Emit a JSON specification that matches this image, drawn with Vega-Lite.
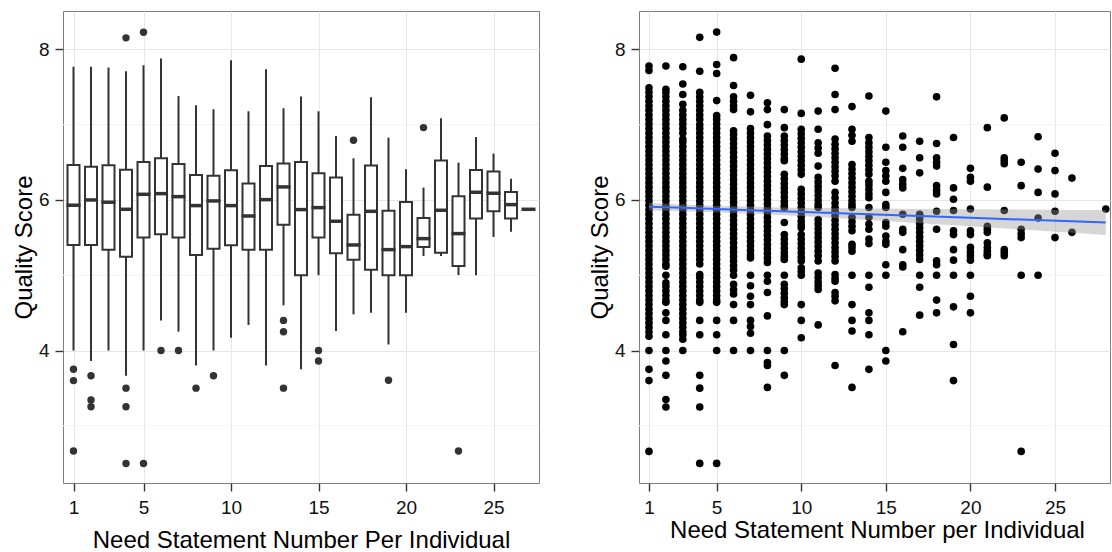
{
"$schema": "https://vega.github.io/schema/vega-lite/v6.json",
"padding": {"left": 11, "top": 10, "right": 0, "bottom": 0},
"spacing": 47,
"config": {
  "font": "Liberation Sans",
  "view": {"stroke": "#7f7f7f", "strokeWidth": 1},
  "axis": {"labelFont": "Liberation Sans", "labelFontSize": 19, "labelColor": "#111111", "titleFont": "Liberation Sans", "titleFontSize": 24, "titleFontWeight": "normal", "titleColor": "#000000", "tickColor": "#333333", "tickSize": 8, "tickWidth": 1.4, "domain": false, "grid": true, "gridColor": "#e6e6e6", "gridWidth": 1},
  "axisX": {"labelPadding": 7, "labelAngle": 0},
  "axisY": {"labelPadding": 6, "titlePadding": 2}
},
"datasets": {
  "minor": [{"g": 3}, {"g": 5}, {"g": 7}],
  "boxes": [
    {"n": 1, "lo": 4.0, "q1": 5.4, "med": 5.93, "q3": 6.465, "hi": 7.77},
    {"n": 2, "lo": 3.86, "q1": 5.4, "med": 6.0, "q3": 6.44, "hi": 7.77},
    {"n": 3, "lo": 4.0, "q1": 5.34, "med": 5.97, "q3": 6.46, "hi": 7.76},
    {"n": 4, "lo": 3.665, "q1": 5.247, "med": 5.876, "q3": 6.4, "hi": 7.71},
    {"n": 5, "lo": 4.0, "q1": 5.5, "med": 6.075, "q3": 6.505, "hi": 7.79},
    {"n": 6, "lo": 4.4, "q1": 5.544, "med": 6.084, "q3": 6.554, "hi": 7.88},
    {"n": 7, "lo": 4.25, "q1": 5.5, "med": 6.044, "q3": 6.478, "hi": 7.38},
    {"n": 8, "lo": 3.8, "q1": 5.269, "med": 5.925, "q3": 6.332, "hi": 7.258},
    {"n": 9, "lo": 4.0, "q1": 5.353, "med": 5.987, "q3": 6.323, "hi": 7.205},
    {"n": 10, "lo": 4.17, "q1": 5.398, "med": 5.925, "q3": 6.394, "hi": 7.856},
    {"n": 11, "lo": 4.339, "q1": 5.34, "med": 5.787, "q3": 6.217, "hi": 7.178},
    {"n": 12, "lo": 3.8, "q1": 5.34, "med": 6.004, "q3": 6.452, "hi": 7.736},
    {"n": 13, "lo": 4.6, "q1": 5.672, "med": 6.173, "q3": 6.483, "hi": 7.218},
    {"n": 14, "lo": 3.75, "q1": 5.0, "med": 5.872, "q3": 6.505, "hi": 7.373},
    {"n": 15, "lo": 5.0, "q1": 5.5, "med": 5.898, "q3": 6.354, "hi": 7.178},
    {"n": 16, "lo": 4.259, "q1": 5.291, "med": 5.717, "q3": 6.297, "hi": 6.85},
    {"n": 17, "lo": 4.48, "q1": 5.207, "med": 5.402, "q3": 5.805, "hi": 6.554},
    {"n": 18, "lo": 4.5, "q1": 5.074, "med": 5.849, "q3": 6.456, "hi": 7.364},
    {"n": 19, "lo": 4.08, "q1": 5.0, "med": 5.34, "q3": 5.858, "hi": 6.828},
    {"n": 20, "lo": 4.5, "q1": 5.0, "med": 5.38, "q3": 5.973, "hi": 6.408},
    {"n": 21, "lo": 5.256, "q1": 5.375, "med": 5.486, "q3": 5.761, "hi": 6.164},
    {"n": 22, "lo": 5.256, "q1": 5.3, "med": 5.863, "q3": 6.523, "hi": 7.085},
    {"n": 23, "lo": 5.003, "q1": 5.123, "med": 5.553, "q3": 6.049, "hi": 6.496},
    {"n": 24, "lo": 5.0, "q1": 5.752, "med": 6.102, "q3": 6.399, "hi": 6.837},
    {"n": 25, "lo": 5.508, "q1": 5.849, "med": 6.089, "q3": 6.377, "hi": 6.616},
    {"n": 26, "lo": 5.579, "q1": 5.752, "med": 5.938, "q3": 6.106, "hi": 6.283},
    {"n": 28, "lo": 5.876, "q1": 5.876, "med": 5.876, "q3": 5.876, "hi": 5.876}
  ],
  "outliers": [
    {"n": 1, "q": 3.75}, {"n": 1, "q": 3.6}, {"n": 1, "q": 2.665},
    {"n": 2, "q": 3.665}, {"n": 2, "q": 3.342}, {"n": 2, "q": 3.253},
    {"n": 4, "q": 8.153}, {"n": 4, "q": 3.5}, {"n": 4, "q": 3.253}, {"n": 4, "q": 2.5},
    {"n": 5, "q": 8.228}, {"n": 5, "q": 2.5},
    {"n": 6, "q": 4.0}, {"n": 7, "q": 4.0}, {"n": 8, "q": 3.5}, {"n": 9, "q": 3.665},
    {"n": 13, "q": 4.4}, {"n": 13, "q": 4.25}, {"n": 13, "q": 3.5},
    {"n": 15, "q": 4.0}, {"n": 15, "q": 3.86},
    {"n": 17, "q": 6.793}, {"n": 19, "q": 3.604}, {"n": 21, "q": 6.961}, {"n": 23, "q": 2.665}
  ],
  "band": [
    {"x": 1, "fit": 5.911, "lo": 5.861, "hi": 5.961},
    {"x": 3, "fit": 5.895, "lo": 5.85, "hi": 5.94},
    {"x": 5, "fit": 5.88, "lo": 5.837, "hi": 5.923},
    {"x": 8, "fit": 5.856, "lo": 5.808, "hi": 5.904},
    {"x": 11, "fit": 5.833, "lo": 5.773, "hi": 5.893},
    {"x": 14, "fit": 5.81, "lo": 5.734, "hi": 5.886},
    {"x": 17, "fit": 5.786, "lo": 5.692, "hi": 5.88},
    {"x": 20, "fit": 5.763, "lo": 5.65, "hi": 5.876},
    {"x": 23, "fit": 5.74, "lo": 5.608, "hi": 5.872},
    {"x": 26, "fit": 5.716, "lo": 5.564, "hi": 5.868},
    {"x": 28, "fit": 5.7, "lo": 5.534, "hi": 5.866}
  ],
  "points": [
    {"n":1,"q":7.78},{"n":1,"q":7.72},{"n":1,"q":7.49},{"n":1,"q":7.43},{"n":1,"q":7.37},{"n":1,"q":7.31},{"n":1,"q":7.25},{"n":1,"q":7.19},{"n":1,"q":7.13},{"n":1,"q":7.07},{"n":1,"q":7.01},{"n":1,"q":6.95},{"n":1,"q":6.89},{"n":1,"q":6.83},{"n":1,"q":6.77},{"n":1,"q":6.71},{"n":1,"q":6.65},{"n":1,"q":6.59},{"n":1,"q":6.53},{"n":1,"q":6.47},{"n":1,"q":6.41},{"n":1,"q":6.35},{"n":1,"q":6.29},{"n":1,"q":6.23},{"n":1,"q":6.17},{"n":1,"q":6.11},{"n":1,"q":6.05},{"n":1,"q":5.99},{"n":1,"q":5.93},{"n":1,"q":5.87},{"n":1,"q":5.81},{"n":1,"q":5.75},{"n":1,"q":5.69},{"n":1,"q":5.63},{"n":1,"q":5.57},{"n":1,"q":5.51},{"n":1,"q":5.45},{"n":1,"q":5.39},{"n":1,"q":5.33},{"n":1,"q":5.27},{"n":1,"q":5.21},{"n":1,"q":5.15},{"n":1,"q":5.09},{"n":1,"q":5.03},{"n":1,"q":4.97},{"n":1,"q":4.91},{"n":1,"q":4.85},{"n":1,"q":4.79},{"n":1,"q":4.73},{"n":1,"q":4.67},{"n":1,"q":4.61},{"n":1,"q":4.55},{"n":1,"q":4.49},{"n":1,"q":4.43},{"n":1,"q":4.37},{"n":1,"q":4.31},{"n":1,"q":4.25},{"n":1,"q":4.19},{"n":1,"q":4.0},{"n":1,"q":3.75},{"n":1,"q":3.6},{"n":1,"q":2.66},
    {"n":2,"q":7.78},{"n":2,"q":7.47},{"n":2,"q":7.43},{"n":2,"q":7.37},{"n":2,"q":7.31},{"n":2,"q":7.25},{"n":2,"q":7.19},{"n":2,"q":7.13},{"n":2,"q":7.07},{"n":2,"q":7.01},{"n":2,"q":6.95},{"n":2,"q":6.89},{"n":2,"q":6.83},{"n":2,"q":6.77},{"n":2,"q":6.71},{"n":2,"q":6.65},{"n":2,"q":6.59},{"n":2,"q":6.53},{"n":2,"q":6.47},{"n":2,"q":6.41},{"n":2,"q":6.35},{"n":2,"q":6.29},{"n":2,"q":6.23},{"n":2,"q":6.17},{"n":2,"q":6.11},{"n":2,"q":6.05},{"n":2,"q":5.99},{"n":2,"q":5.93},{"n":2,"q":5.87},{"n":2,"q":5.81},{"n":2,"q":5.75},{"n":2,"q":5.69},{"n":2,"q":5.63},{"n":2,"q":5.57},{"n":2,"q":5.51},{"n":2,"q":5.45},{"n":2,"q":5.39},{"n":2,"q":5.33},{"n":2,"q":5.27},{"n":2,"q":5.21},{"n":2,"q":5.15},{"n":2,"q":5.12},{"n":2,"q":5.0},{"n":2,"q":4.9},{"n":2,"q":4.85},{"n":2,"q":4.79},{"n":2,"q":4.73},{"n":2,"q":4.67},{"n":2,"q":4.64},{"n":2,"q":4.5},{"n":2,"q":4.4},{"n":2,"q":4.21},{"n":2,"q":4.0},{"n":2,"q":3.86},{"n":2,"q":3.67},{"n":2,"q":3.35},{"n":2,"q":3.25},
    {"n":3,"q":7.77},{"n":3,"q":7.54},{"n":3,"q":7.4},{"n":3,"q":7.27},{"n":3,"q":7.19},{"n":3,"q":7.13},{"n":3,"q":7.07},{"n":3,"q":7.01},{"n":3,"q":6.95},{"n":3,"q":6.89},{"n":3,"q":6.81},{"n":3,"q":6.77},{"n":3,"q":6.71},{"n":3,"q":6.65},{"n":3,"q":6.59},{"n":3,"q":6.53},{"n":3,"q":6.47},{"n":3,"q":6.41},{"n":3,"q":6.35},{"n":3,"q":6.29},{"n":3,"q":6.23},{"n":3,"q":6.17},{"n":3,"q":6.11},{"n":3,"q":6.05},{"n":3,"q":5.99},{"n":3,"q":5.93},{"n":3,"q":5.87},{"n":3,"q":5.81},{"n":3,"q":5.75},{"n":3,"q":5.69},{"n":3,"q":5.63},{"n":3,"q":5.57},{"n":3,"q":5.51},{"n":3,"q":5.45},{"n":3,"q":5.39},{"n":3,"q":5.33},{"n":3,"q":5.27},{"n":3,"q":5.21},{"n":3,"q":5.15},{"n":3,"q":5.09},{"n":3,"q":5.03},{"n":3,"q":4.97},{"n":3,"q":4.91},{"n":3,"q":4.85},{"n":3,"q":4.79},{"n":3,"q":4.73},{"n":3,"q":4.67},{"n":3,"q":4.61},{"n":3,"q":4.55},{"n":3,"q":4.49},{"n":3,"q":4.43},{"n":3,"q":4.37},{"n":3,"q":4.31},{"n":3,"q":4.25},{"n":3,"q":4.21},{"n":3,"q":4.15},{"n":3,"q":4.0},
    {"n":4,"q":8.16},{"n":4,"q":7.71},{"n":4,"q":7.43},{"n":4,"q":7.37},{"n":4,"q":7.31},{"n":4,"q":7.25},{"n":4,"q":7.19},{"n":4,"q":7.13},{"n":4,"q":7.07},{"n":4,"q":7.0},{"n":4,"q":6.95},{"n":4,"q":6.89},{"n":4,"q":6.83},{"n":4,"q":6.77},{"n":4,"q":6.71},{"n":4,"q":6.65},{"n":4,"q":6.59},{"n":4,"q":6.53},{"n":4,"q":6.47},{"n":4,"q":6.41},{"n":4,"q":6.35},{"n":4,"q":6.29},{"n":4,"q":6.23},{"n":4,"q":6.17},{"n":4,"q":6.11},{"n":4,"q":6.05},{"n":4,"q":5.99},{"n":4,"q":5.93},{"n":4,"q":5.87},{"n":4,"q":5.81},{"n":4,"q":5.75},{"n":4,"q":5.69},{"n":4,"q":5.63},{"n":4,"q":5.57},{"n":4,"q":5.51},{"n":4,"q":5.45},{"n":4,"q":5.39},{"n":4,"q":5.33},{"n":4,"q":5.27},{"n":4,"q":5.21},{"n":4,"q":5.15},{"n":4,"q":5.01},{"n":4,"q":4.97},{"n":4,"q":4.91},{"n":4,"q":4.85},{"n":4,"q":4.79},{"n":4,"q":4.73},{"n":4,"q":4.67},{"n":4,"q":4.64},{"n":4,"q":4.4},{"n":4,"q":4.21},{"n":4,"q":3.67},{"n":4,"q":3.5},{"n":4,"q":3.25},{"n":4,"q":2.5},
    {"n":5,"q":8.23},{"n":5,"q":7.8},{"n":5,"q":7.68},{"n":5,"q":7.32},{"n":5,"q":7.12},{"n":5,"q":7.07},{"n":5,"q":7.01},{"n":5,"q":6.95},{"n":5,"q":6.89},{"n":5,"q":6.83},{"n":5,"q":6.77},{"n":5,"q":6.71},{"n":5,"q":6.65},{"n":5,"q":6.59},{"n":5,"q":6.53},{"n":5,"q":6.47},{"n":5,"q":6.41},{"n":5,"q":6.35},{"n":5,"q":6.29},{"n":5,"q":6.23},{"n":5,"q":6.17},{"n":5,"q":6.11},{"n":5,"q":6.05},{"n":5,"q":5.99},{"n":5,"q":5.93},{"n":5,"q":5.87},{"n":5,"q":5.81},{"n":5,"q":5.75},{"n":5,"q":5.69},{"n":5,"q":5.63},{"n":5,"q":5.57},{"n":5,"q":5.51},{"n":5,"q":5.45},{"n":5,"q":5.39},{"n":5,"q":5.33},{"n":5,"q":5.27},{"n":5,"q":5.21},{"n":5,"q":5.15},{"n":5,"q":5.09},{"n":5,"q":5.03},{"n":5,"q":4.97},{"n":5,"q":4.91},{"n":5,"q":4.85},{"n":5,"q":4.79},{"n":5,"q":4.73},{"n":5,"q":4.67},{"n":5,"q":4.64},{"n":5,"q":4.4},{"n":5,"q":4.21},{"n":5,"q":4.0},{"n":5,"q":2.5},
    {"n":6,"q":7.89},{"n":6,"q":7.52},{"n":6,"q":7.37},{"n":6,"q":7.31},{"n":6,"q":7.25},{"n":6,"q":7.2},{"n":6,"q":6.92},{"n":6,"q":6.87},{"n":6,"q":6.81},{"n":6,"q":6.75},{"n":6,"q":6.69},{"n":6,"q":6.63},{"n":6,"q":6.57},{"n":6,"q":6.51},{"n":6,"q":6.45},{"n":6,"q":6.39},{"n":6,"q":6.33},{"n":6,"q":6.27},{"n":6,"q":6.21},{"n":6,"q":6.15},{"n":6,"q":6.09},{"n":6,"q":6.03},{"n":6,"q":5.97},{"n":6,"q":5.91},{"n":6,"q":5.85},{"n":6,"q":5.79},{"n":6,"q":5.73},{"n":6,"q":5.67},{"n":6,"q":5.61},{"n":6,"q":5.55},{"n":6,"q":5.49},{"n":6,"q":5.43},{"n":6,"q":5.37},{"n":6,"q":5.31},{"n":6,"q":5.25},{"n":6,"q":5.19},{"n":6,"q":5.13},{"n":6,"q":5.07},{"n":6,"q":5.0},{"n":6,"q":4.88},{"n":6,"q":4.81},{"n":6,"q":4.75},{"n":6,"q":4.61},{"n":6,"q":4.4},{"n":6,"q":4.0},
    {"n":7,"q":7.39},{"n":7,"q":7.17},{"n":7,"q":6.95},{"n":7,"q":6.89},{"n":7,"q":6.83},{"n":7,"q":6.77},{"n":7,"q":6.71},{"n":7,"q":6.65},{"n":7,"q":6.59},{"n":7,"q":6.53},{"n":7,"q":6.47},{"n":7,"q":6.41},{"n":7,"q":6.35},{"n":7,"q":6.29},{"n":7,"q":6.23},{"n":7,"q":6.17},{"n":7,"q":6.11},{"n":7,"q":6.05},{"n":7,"q":5.99},{"n":7,"q":5.93},{"n":7,"q":5.87},{"n":7,"q":5.81},{"n":7,"q":5.75},{"n":7,"q":5.69},{"n":7,"q":5.63},{"n":7,"q":5.57},{"n":7,"q":5.51},{"n":7,"q":5.45},{"n":7,"q":5.39},{"n":7,"q":5.33},{"n":7,"q":5.27},{"n":7,"q":5.23},{"n":7,"q":5.0},{"n":7,"q":4.86},{"n":7,"q":4.72},{"n":7,"q":4.61},{"n":7,"q":4.4},{"n":7,"q":4.32},{"n":7,"q":4.23},{"n":7,"q":4.0},
    {"n":8,"q":7.29},{"n":8,"q":7.2},{"n":8,"q":7.0},{"n":8,"q":6.85},{"n":8,"q":6.79},{"n":8,"q":6.73},{"n":8,"q":6.67},{"n":8,"q":6.61},{"n":8,"q":6.55},{"n":8,"q":6.49},{"n":8,"q":6.43},{"n":8,"q":6.37},{"n":8,"q":6.31},{"n":8,"q":6.25},{"n":8,"q":6.19},{"n":8,"q":6.13},{"n":8,"q":6.07},{"n":8,"q":6.01},{"n":8,"q":5.95},{"n":8,"q":5.89},{"n":8,"q":5.83},{"n":8,"q":5.77},{"n":8,"q":5.71},{"n":8,"q":5.65},{"n":8,"q":5.59},{"n":8,"q":5.53},{"n":8,"q":5.47},{"n":8,"q":5.41},{"n":8,"q":5.35},{"n":8,"q":5.29},{"n":8,"q":5.23},{"n":8,"q":5.17},{"n":8,"q":5.0},{"n":8,"q":4.92},{"n":8,"q":4.77},{"n":8,"q":4.46},{"n":8,"q":4.0},{"n":8,"q":3.84},{"n":8,"q":3.8},{"n":8,"q":3.51},
    {"n":9,"q":7.2},{"n":9,"q":6.96},{"n":9,"q":6.85},{"n":9,"q":6.79},{"n":9,"q":6.73},{"n":9,"q":6.67},{"n":9,"q":6.61},{"n":9,"q":6.55},{"n":9,"q":6.52},{"n":9,"q":6.34},{"n":9,"q":6.28},{"n":9,"q":6.22},{"n":9,"q":6.16},{"n":9,"q":6.1},{"n":9,"q":6.04},{"n":9,"q":5.98},{"n":9,"q":5.93},{"n":9,"q":5.9},{"n":9,"q":5.7},{"n":9,"q":5.54},{"n":9,"q":5.48},{"n":9,"q":5.42},{"n":9,"q":5.36},{"n":9,"q":5.3},{"n":9,"q":5.25},{"n":9,"q":5.21},{"n":9,"q":5.0},{"n":9,"q":4.88},{"n":9,"q":4.82},{"n":9,"q":4.76},{"n":9,"q":4.7},{"n":9,"q":4.65},{"n":9,"q":4.61},{"n":9,"q":4.0},{"n":9,"q":3.67},
    {"n":10,"q":7.87},{"n":10,"q":7.15},{"n":10,"q":6.94},{"n":10,"q":6.88},{"n":10,"q":6.82},{"n":10,"q":6.76},{"n":10,"q":6.7},{"n":10,"q":6.64},{"n":10,"q":6.58},{"n":10,"q":6.52},{"n":10,"q":6.46},{"n":10,"q":6.4},{"n":10,"q":6.34},{"n":10,"q":6.14},{"n":10,"q":6.08},{"n":10,"q":6.02},{"n":10,"q":5.96},{"n":10,"q":5.9},{"n":10,"q":5.84},{"n":10,"q":5.78},{"n":10,"q":5.72},{"n":10,"q":5.67},{"n":10,"q":5.63},{"n":10,"q":5.54},{"n":10,"q":5.48},{"n":10,"q":5.42},{"n":10,"q":5.36},{"n":10,"q":5.3},{"n":10,"q":5.24},{"n":10,"q":5.19},{"n":10,"q":5.1},{"n":10,"q":5.05},{"n":10,"q":5.0},{"n":10,"q":4.61},{"n":10,"q":4.4},{"n":10,"q":4.17},
    {"n":11,"q":7.18},{"n":11,"q":6.94},{"n":11,"q":6.76},{"n":11,"q":6.69},{"n":11,"q":6.62},{"n":11,"q":6.45},{"n":11,"q":6.3},{"n":11,"q":6.24},{"n":11,"q":6.18},{"n":11,"q":6.12},{"n":11,"q":6.06},{"n":11,"q":6.0},{"n":11,"q":5.94},{"n":11,"q":5.9},{"n":11,"q":5.74},{"n":11,"q":5.68},{"n":11,"q":5.62},{"n":11,"q":5.56},{"n":11,"q":5.5},{"n":11,"q":5.44},{"n":11,"q":5.38},{"n":11,"q":5.32},{"n":11,"q":5.26},{"n":11,"q":5.19},{"n":11,"q":5.03},{"n":11,"q":4.97},{"n":11,"q":4.91},{"n":11,"q":4.86},{"n":11,"q":4.81},{"n":11,"q":4.34},
    {"n":12,"q":7.75},{"n":12,"q":7.4},{"n":12,"q":7.2},{"n":12,"q":6.81},{"n":12,"q":6.74},{"n":12,"q":6.68},{"n":12,"q":6.62},{"n":12,"q":6.56},{"n":12,"q":6.5},{"n":12,"q":6.44},{"n":12,"q":6.38},{"n":12,"q":6.32},{"n":12,"q":6.25},{"n":12,"q":6.1},{"n":12,"q":6.03},{"n":12,"q":5.96},{"n":12,"q":5.9},{"n":12,"q":5.85},{"n":12,"q":5.79},{"n":12,"q":5.73},{"n":12,"q":5.67},{"n":12,"q":5.61},{"n":12,"q":5.55},{"n":12,"q":5.49},{"n":12,"q":5.43},{"n":12,"q":5.37},{"n":12,"q":5.31},{"n":12,"q":5.25},{"n":12,"q":5.19},{"n":12,"q":5.01},{"n":12,"q":4.96},{"n":12,"q":4.92},{"n":12,"q":4.77},{"n":12,"q":4.72},{"n":12,"q":4.66},{"n":12,"q":3.8},
    {"n":13,"q":7.24},{"n":13,"q":6.94},{"n":13,"q":6.86},{"n":13,"q":6.78},{"n":13,"q":6.47},{"n":13,"q":6.41},{"n":13,"q":6.35},{"n":13,"q":6.29},{"n":13,"q":6.23},{"n":13,"q":6.17},{"n":13,"q":6.11},{"n":13,"q":6.05},{"n":13,"q":5.99},{"n":13,"q":5.94},{"n":13,"q":5.9},{"n":13,"q":5.77},{"n":13,"q":5.71},{"n":13,"q":5.65},{"n":13,"q":5.59},{"n":13,"q":5.41},{"n":13,"q":5.37},{"n":13,"q":5.32},{"n":13,"q":5.0},{"n":13,"q":4.61},{"n":13,"q":4.4},{"n":13,"q":4.26},{"n":13,"q":3.51},
    {"n":14,"q":7.38},{"n":14,"q":6.83},{"n":14,"q":6.76},{"n":14,"q":6.7},{"n":14,"q":6.64},{"n":14,"q":6.58},{"n":14,"q":6.52},{"n":14,"q":6.46},{"n":14,"q":6.4},{"n":14,"q":6.34},{"n":14,"q":6.25},{"n":14,"q":6.2},{"n":14,"q":6.14},{"n":14,"q":6.08},{"n":14,"q":6.03},{"n":14,"q":5.9},{"n":14,"q":5.77},{"n":14,"q":5.68},{"n":14,"q":5.61},{"n":14,"q":5.48},{"n":14,"q":5.42},{"n":14,"q":5.0},{"n":14,"q":4.84},{"n":14,"q":4.5},{"n":14,"q":4.4},{"n":14,"q":4.21},{"n":14,"q":3.75},
    {"n":15,"q":7.18},{"n":15,"q":6.7},{"n":15,"q":6.5},{"n":15,"q":6.39},{"n":15,"q":6.32},{"n":15,"q":6.25},{"n":15,"q":6.1},{"n":15,"q":5.94},{"n":15,"q":5.9},{"n":15,"q":5.7},{"n":15,"q":5.65},{"n":15,"q":5.52},{"n":15,"q":5.45},{"n":15,"q":5.41},{"n":15,"q":5.14},{"n":15,"q":5.0},{"n":15,"q":4.0},{"n":15,"q":3.86},
    {"n":16,"q":6.85},{"n":16,"q":6.7},{"n":16,"q":6.42},{"n":16,"q":6.27},{"n":16,"q":6.21},{"n":16,"q":6.16},{"n":16,"q":5.81},{"n":16,"q":5.61},{"n":16,"q":5.57},{"n":16,"q":5.34},{"n":16,"q":5.14},{"n":16,"q":5.11},{"n":16,"q":4.25},
    {"n":17,"q":6.78},{"n":17,"q":6.56},{"n":17,"q":6.36},{"n":17,"q":5.81},{"n":17,"q":5.75},{"n":17,"q":5.69},{"n":17,"q":5.63},{"n":17,"q":5.57},{"n":17,"q":5.51},{"n":17,"q":5.45},{"n":17,"q":5.39},{"n":17,"q":5.33},{"n":17,"q":5.27},{"n":17,"q":5.21},{"n":17,"q":5.0},{"n":17,"q":4.84},{"n":17,"q":4.47},
    {"n":18,"q":7.37},{"n":18,"q":6.75},{"n":18,"q":6.56},{"n":18,"q":6.5},{"n":18,"q":6.45},{"n":18,"q":6.19},{"n":18,"q":6.13},{"n":18,"q":6.08},{"n":18,"q":5.85},{"n":18,"q":5.61},{"n":18,"q":5.19},{"n":18,"q":5.14},{"n":18,"q":5.0},{"n":18,"q":4.67},{"n":18,"q":4.5},
    {"n":19,"q":6.83},{"n":19,"q":6.16},{"n":19,"q":6.01},{"n":19,"q":5.86},{"n":19,"q":5.59},{"n":19,"q":5.54},{"n":19,"q":5.34},{"n":19,"q":5.2},{"n":19,"q":5.0},{"n":19,"q":4.58},{"n":19,"q":4.08},{"n":19,"q":3.6},
    {"n":20,"q":6.42},{"n":20,"q":6.3},{"n":20,"q":6.25},{"n":20,"q":5.88},{"n":20,"q":5.59},{"n":20,"q":5.54},{"n":20,"q":5.37},{"n":20,"q":5.31},{"n":20,"q":5.26},{"n":20,"q":5.2},{"n":20,"q":5.0},{"n":20,"q":4.72},{"n":20,"q":4.5},
    {"n":21,"q":6.96},{"n":21,"q":6.17},{"n":21,"q":5.65},{"n":21,"q":5.61},{"n":21,"q":5.57},{"n":21,"q":5.43},{"n":21,"q":5.37},{"n":21,"q":5.32},{"n":21,"q":5.28},{"n":21,"q":5.26},
    {"n":22,"q":7.09},{"n":22,"q":6.56},{"n":22,"q":6.52},{"n":22,"q":6.48},{"n":22,"q":5.86},{"n":22,"q":5.34},{"n":22,"q":5.3},{"n":22,"q":5.26},
    {"n":23,"q":6.5},{"n":23,"q":6.19},{"n":23,"q":5.61},{"n":23,"q":5.55},{"n":23,"q":5.5},{"n":23,"q":5.0},{"n":23,"q":2.66},
    {"n":24,"q":6.84},{"n":24,"q":6.41},{"n":24,"q":6.1},{"n":24,"q":5.76},{"n":24,"q":5.0},
    {"n":25,"q":6.62},{"n":25,"q":6.39},{"n":25,"q":6.08},{"n":25,"q":5.85},{"n":25,"q":5.5},
    {"n":26,"q":6.29},{"n":26,"q":5.57},
    {"n":28,"q":5.88}
  ]
},
"hconcat": [
  {
    "width": 476, "height": 472,
    "layer": [
      {
        "data": {"name": "minor"},
        "mark": {"type": "rule", "color": "#f2f2f2", "strokeWidth": 1},
        "encoding": {
          "y": {"field": "g", "type": "quantitative", "scale": {"domain": [2.24, 8.51], "nice": false, "zero": false}, "axis": {"values": [4, 6, 8], "title": "Quality Score"}}
        }
      },
      {
        "data": {"name": "boxes"},
        "mark": {"type": "rule", "color": "#333333", "strokeWidth": 2},
        "encoding": {
          "x": {"field": "n", "type": "ordinal", "scale": {"type": "point", "padding": 0.6}, "axis": {"values": [1, 5, 10, 15, 20, 25], "title": "Need Statement Number Per Individual", "titlePadding": 11}},
          "y": {"field": "lo", "type": "quantitative", "scale": {"domain": [2.24, 8.51], "nice": false, "zero": false}, "axis": {"values": [4, 6, 8], "title": "Quality Score"}},
          "y2": {"field": "hi"}
        }
      },
      {
        "data": {"name": "boxes"},
        "mark": {"type": "bar", "fill": "#ffffff", "stroke": "#333333", "strokeWidth": 2, "size": 12},
        "encoding": {
          "x": {"field": "n", "type": "ordinal", "scale": {"type": "point", "padding": 0.6}, "axis": {"values": [1, 5, 10, 15, 20, 25], "title": "Need Statement Number Per Individual", "titlePadding": 11}},
          "y": {"field": "q1", "type": "quantitative", "scale": {"domain": [2.24, 8.51], "nice": false, "zero": false}, "axis": {"values": [4, 6, 8], "title": "Quality Score"}},
          "y2": {"field": "q3"}
        }
      },
      {
        "data": {"name": "boxes"},
        "mark": {"type": "tick", "color": "#333333", "thickness": 3.5, "size": 14, "opacity": 1},
        "encoding": {
          "x": {"field": "n", "type": "ordinal", "scale": {"type": "point", "padding": 0.6}, "axis": {"values": [1, 5, 10, 15, 20, 25], "title": "Need Statement Number Per Individual", "titlePadding": 11}},
          "y": {"field": "med", "type": "quantitative", "scale": {"domain": [2.24, 8.51], "nice": false, "zero": false}, "axis": {"values": [4, 6, 8], "title": "Quality Score"}}
        }
      },
      {
        "data": {"name": "outliers"},
        "mark": {"type": "point", "filled": true, "color": "#333333", "size": 55, "opacity": 1},
        "encoding": {
          "x": {"field": "n", "type": "ordinal", "scale": {"type": "point", "padding": 0.6}, "axis": {"values": [1, 5, 10, 15, 20, 25], "title": "Need Statement Number Per Individual", "titlePadding": 11}},
          "y": {"field": "q", "type": "quantitative", "scale": {"domain": [2.24, 8.51], "nice": false, "zero": false}, "axis": {"values": [4, 6, 8], "title": "Quality Score"}}
        }
      }
    ]
  },
  {
    "width": 471, "height": 472,
    "layer": [
      {
        "data": {"name": "minor"},
        "mark": {"type": "rule", "color": "#f2f2f2", "strokeWidth": 1},
        "encoding": {
          "y": {"field": "g", "type": "quantitative", "scale": {"domain": [2.24, 8.51], "nice": false, "zero": false}, "axis": {"values": [4, 6, 8], "title": "Quality Score"}}
        }
      },
      {
        "data": {"name": "points"},
        "mark": {"type": "point", "filled": true, "color": "#000000", "size": 58, "opacity": 1, "clip": true},
        "encoding": {
          "x": {"field": "n", "type": "quantitative", "scale": {"domain": [0.41, 28.25], "nice": false, "zero": false}, "axis": {"values": [1, 5, 10, 15, 20, 25], "title": "Need Statement Number per Individual", "titlePadding": 1, "titleX": 238}},
          "y": {"field": "q", "type": "quantitative", "scale": {"domain": [2.24, 8.51], "nice": false, "zero": false}, "axis": {"values": [4, 6, 8], "title": "Quality Score"}}
        }
      },
      {
        "data": {"name": "band"},
        "mark": {"type": "area", "color": "#999999", "opacity": 0.4, "clip": true},
        "encoding": {
          "x": {"field": "x", "type": "quantitative", "scale": {"domain": [0.41, 28.25], "nice": false, "zero": false}, "axis": {"values": [1, 5, 10, 15, 20, 25], "title": "Need Statement Number per Individual", "titlePadding": 1, "titleX": 238}},
          "y": {"field": "lo", "type": "quantitative", "scale": {"domain": [2.24, 8.51], "nice": false, "zero": false}, "axis": {"values": [4, 6, 8], "title": "Quality Score"}},
          "y2": {"field": "hi"}
        }
      },
      {
        "data": {"name": "band"},
        "mark": {"type": "line", "color": "#3366ff", "strokeWidth": 2, "clip": true},
        "encoding": {
          "x": {"field": "x", "type": "quantitative", "scale": {"domain": [0.41, 28.25], "nice": false, "zero": false}, "axis": {"values": [1, 5, 10, 15, 20, 25], "title": "Need Statement Number per Individual", "titlePadding": 1, "titleX": 238}},
          "y": {"field": "fit", "type": "quantitative", "scale": {"domain": [2.24, 8.51], "nice": false, "zero": false}, "axis": {"values": [4, 6, 8], "title": "Quality Score"}}
        }
      }
    ]
  }
]
}
